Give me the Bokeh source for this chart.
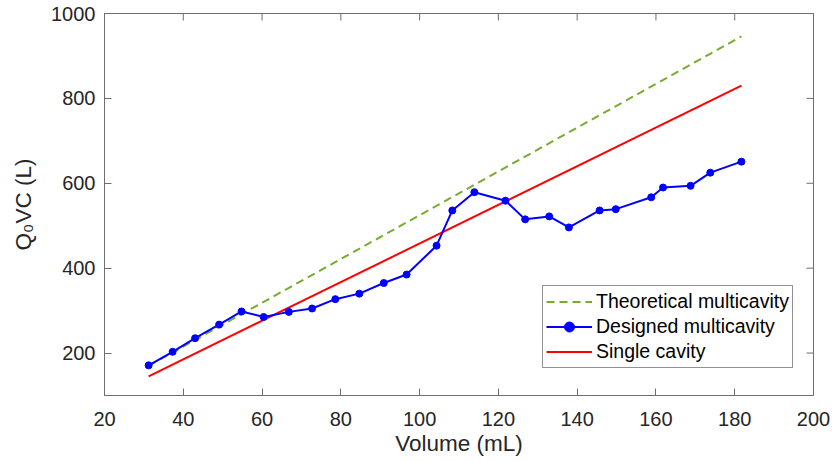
import math
from bokeh.plotting import figure
from bokeh.models import LinearAxis, Legend, LegendItem, FixedTicker, Range1d
from bokeh.embed import file_html
from bokeh.resources import INLINE

# ---- data ----
volume = [31.2, 37.3, 43.0, 49.1, 54.8, 60.4, 66.8, 72.7, 78.6, 84.7, 90.9, 96.7, 104.3,
          108.3, 113.9, 121.8, 126.8, 132.9, 137.9, 145.7, 149.8, 158.8, 161.8, 168.8,
          173.8, 181.7]
designed = [171, 203, 235, 267, 298, 285, 297, 305, 327, 340, 365, 385, 453,
            536, 579, 559, 515, 522, 496, 536, 539, 567, 590, 594, 625, 651]
theory_x = [31.2, 181.7]
theory_y = [170, 946]
single_x = [31.2, 181.7]
single_y = [145, 830]
x_ticks = [20, 40, 60, 80, 100, 120, 140, 160, 180, 200]
y_ticks = [200, 400, 600, 800, 1000]
x_min, x_max = 20, 200
y_min, y_max = 100, 1000

FONT = "Liberation Sans"
AX = "#6e6e6e"
TXT = "#262626"

p = figure(width=832, height=461, output_backend="svg", toolbar_location=None,
           x_range=Range1d(x_min, x_max), y_range=Range1d(y_min, y_max),
           min_border_left=104, min_border_right=19, min_border_top=13,
           min_border_bottom=66, x_axis_location=None, y_axis_location=None)
p.grid.visible = False
p.outline_line_color = AX
p.outline_line_width = 1
p.background_fill_color = "white"
p.border_fill_color = "white"

def style(ax):
    ax.axis_line_color = AX
    ax.major_tick_line_color = AX
    ax.minor_tick_line_color = None
    ax.major_tick_in = 7
    ax.major_tick_out = 0
    ax.major_label_text_font = FONT
    ax.major_label_text_font_size = "20px"
    ax.major_label_text_color = TXT
    ax.axis_label_text_font = FONT
    ax.axis_label_text_font_size = "22.5px"
    ax.axis_label_text_font_style = "normal"
    ax.axis_label_text_color = TXT

xb = LinearAxis(ticker=FixedTicker(ticks=x_ticks), axis_label="Volume (mL)")
style(xb)
xb.major_label_standoff = 16
xb.axis_label_standoff = 2
p.add_layout(xb, "below")

yl = LinearAxis(ticker=FixedTicker(ticks=y_ticks), axis_label="Q₀VC (L)")
style(yl)
yl.major_label_standoff = 9
yl.axis_label_standoff = 12
p.add_layout(yl, "left")

# mirrored inward ticks on the top and right edges (half of each dash is clipped)
p.scatter(x_ticks, [y_max] * len(x_ticks), marker="dash", size=14, angle=math.pi / 2,
          line_color=AX, line_width=1)
p.scatter([x_max] * len(y_ticks), y_ticks, marker="dash", size=14,
          line_color=AX, line_width=1)

r_theory = p.line(theory_x, theory_y, line_color="#77AC30", line_width=2, line_dash="8 5")
r_single = p.line(single_x, single_y, line_color="#FF0000", line_width=2)
r_des_l = p.line(volume, designed, line_color="#0000FF", line_width=2)
r_des_m = p.scatter(volume, designed, marker="circle", size=7, fill_color="#0000FF",
                    line_color="#0000FF")

legend = Legend(items=[
    LegendItem(label="Theoretical multicavity", renderers=[r_theory]),
    LegendItem(label="Designed multicavity", renderers=[r_des_l, r_des_m]),
    LegendItem(label="Single cavity", renderers=[r_single]),
], location=(438, 27))
legend.label_text_font = FONT
legend.label_text_font_size = "19.5px"
legend.label_text_color = "#000000"
legend.glyph_width = 46
legend.glyph_height = 25
legend.label_height = 25
legend.label_standoff = 4
legend.spacing = 0
legend.padding = 3
legend.margin = 0
legend.border_line_color = "#262626"
legend.border_line_width = 1
legend.background_fill_alpha = 1
p.add_layout(legend, "center")

open("out.html", "w").write(file_html(p, INLINE))
